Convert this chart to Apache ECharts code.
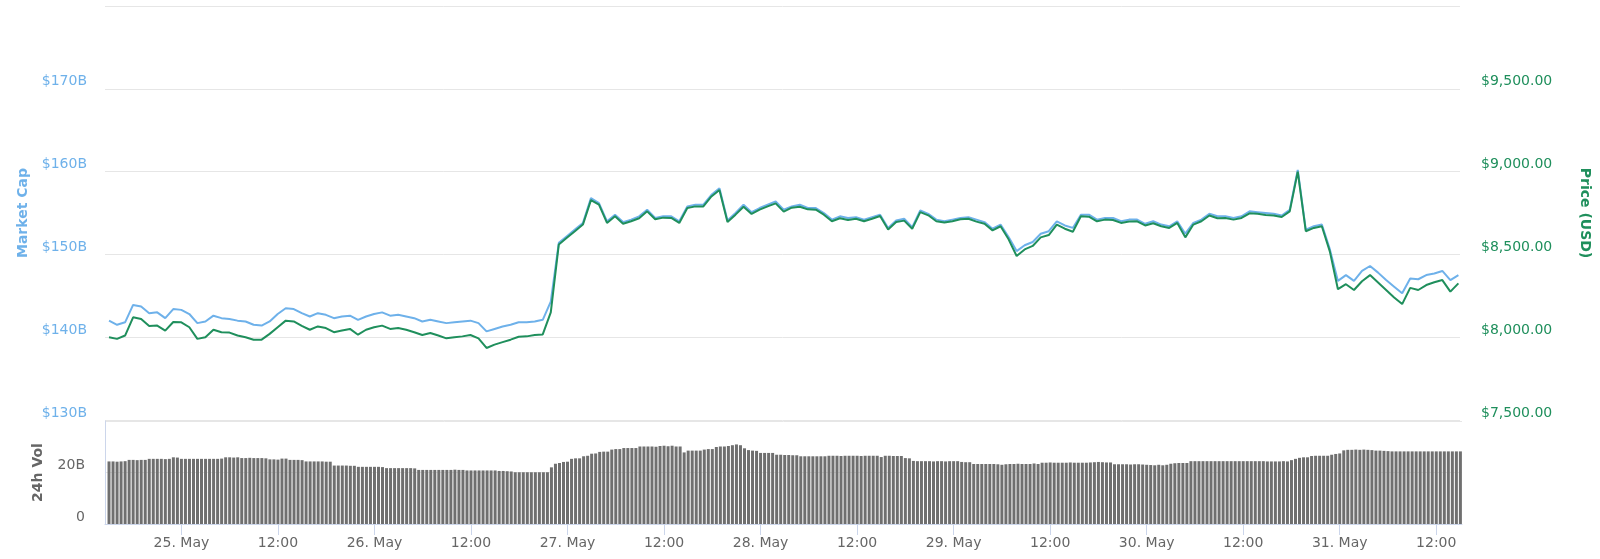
<!DOCTYPE html>
<html><head><meta charset="utf-8">
<script src="https://cdn.jsdelivr.net/npm/echarts@6/dist/echarts.min.js"></script>
<style>html,body{margin:0;padding:0;background:#fff}#chart{width:1600px;height:559px}</style>
</head><body><div id="chart"></div>
<script>
// hourly samples from 24 May 15:00 to 31 May 15:00
const firstSample = [2019, 4, 24, 15, 0];
const axisStart = [2019, 4, 24, 14, 30];
const axisEnd = [2019, 4, 31, 15, 12];
const monthNames = ['Jan','Feb','Mar','Apr','May','Jun','Jul','Aug','Sep','Oct','Nov','Dec'];
// x tick positions: [day of May, hour]
const xTickDays = [25, 25, 26, 26, 27, 27, 28, 28, 29, 29, 30, 30, 31, 31];
const xTickHours = [0, 12, 0, 12, 0, 12, 0, 12, 0, 12, 0, 12, 0, 12];

const priceUSD = [
 8000, 7990, 8010, 8120, 8110, 8068, 8070, 8040, 8092, 8090, 8060, 7990,
 8000, 8045, 8030, 8028, 8010, 8000, 7985, 7985, 8020, 8060, 8100, 8095,
 8068, 8045, 8065, 8055, 8030, 8040, 8050, 8015, 8045, 8060, 8070, 8050,
 8055, 8045, 8030, 8013, 8025, 8010, 7993, 8000, 8005, 8013, 7993, 7935,
 7955, 7970, 7985, 8003, 8005, 8013, 8017, 8150, 8560, 8600, 8640, 8680,
 8828, 8800, 8690, 8730, 8685, 8700, 8718, 8760, 8712, 8722, 8720, 8690,
 8780, 8790, 8790, 8850, 8889, 8695, 8740, 8788, 8744, 8770, 8790, 8808,
 8758, 8782, 8788, 8772, 8770, 8740, 8700, 8718, 8708, 8715, 8700, 8715,
 8732, 8650, 8695, 8704, 8655, 8755, 8736, 8700, 8692, 8700, 8712, 8715,
 8698, 8685, 8645, 8670, 8591, 8490, 8530, 8551, 8603, 8617, 8680, 8655,
 8637, 8730, 8728, 8700, 8710, 8708, 8690, 8698, 8700, 8675, 8688, 8670,
 8660, 8690, 8603, 8680, 8700, 8735, 8718, 8720, 8710, 8720, 8748, 8745,
 8738, 8735, 8726, 8760, 9000, 8640, 8660, 8670, 8517, 8290, 8320, 8285,
 8338, 8375, 8330, 8285, 8240, 8200, 8298, 8285, 8315, 8332, 8345, 8275, 8325
];

const marketCapB = [
 142.0, 141.5, 141.8, 143.9, 143.7, 142.9, 143.0, 142.3, 143.4, 143.3, 142.8, 141.7,
 141.9, 142.6, 142.3, 142.2, 142.0, 141.9, 141.5, 141.4, 141.9, 142.8, 143.5, 143.4,
 142.9, 142.5, 142.9, 142.7, 142.3, 142.5, 142.6, 142.1, 142.5, 142.8, 143.0, 142.6,
 142.7, 142.5, 142.3, 141.9, 142.1, 141.9, 141.7, 141.8, 141.9, 142.0, 141.7, 140.7,
 141.0, 141.3, 141.5, 141.8, 141.8, 141.9, 142.1, 144.3, 151.4, 152.2, 153.0, 153.8,
 156.8, 156.2, 154.0, 154.8, 153.9, 154.2, 154.6, 155.4, 154.4, 154.6, 154.6, 154.0,
 155.8, 156.0, 156.0, 157.2, 158.0, 154.1, 155.0, 156.0, 155.1, 155.6, 156.0, 156.4,
 155.4, 155.8, 156.0, 155.6, 155.6, 155.0, 154.2, 154.6, 154.4, 154.5, 154.2, 154.5,
 154.8, 153.2, 154.1, 154.3, 153.3, 155.3, 154.9, 154.2, 154.0, 154.2, 154.4, 154.5,
 154.2, 153.9, 153.1, 153.6, 152.1, 150.4, 151.1, 151.5, 152.5, 152.8, 154.0, 153.5,
 153.2, 154.8, 154.8, 154.2, 154.4, 154.4, 154.0, 154.2, 154.2, 153.7, 154.0, 153.6,
 153.4, 154.0, 152.5, 153.8, 154.2, 154.9, 154.6, 154.6, 154.4, 154.6, 155.2, 155.1,
 155.0, 154.9, 154.7, 155.4, 160.2, 153.0, 153.4, 153.6, 150.6, 146.8, 147.5, 146.8,
 148.0, 148.6, 147.8, 146.9, 146.1, 145.3, 147.1, 147.0, 147.5, 147.7, 148.0, 146.9, 147.5
];

// half-hourly 24h volume (billions USD)
const volume24hB = [
 24.3,24.3,24.2,24.3,24.4, 24.9,24.9,24.8,24.9,24.9, 25.3,25.3,25.3,25.3,25.2,25.3, 25.9,25.8,
 25.3,25.3,25.3,25.3,25.3,25.3,25.3,25.3,25.3,25.3,25.4, 25.9,25.9,25.8,25.9,
 25.6,25.6,25.7,25.6,25.6,25.6,25.5, 25.1,25.1,25.0, 25.4,25.4, 24.9,24.9,24.9,24.8,
 24.3,24.3,24.3,24.3,24.3,24.2,24.2, 22.7,22.7,22.7,22.7,22.6,22.6,
 22.2,22.2,22.2,22.2,22.2,22.2,22.1, 21.7,21.7,21.7,21.7,21.7,21.7,21.7,21.6,
 21.0,21.0,21.0,21.0,21.0,21.0,21.0,21.0,21.0,21.1,21.0,21.0,
 20.8,20.8,20.8,20.8,20.8,20.8,20.8,20.8, 20.6,20.6,20.5,20.4,
 20.1,20.1,20.1,20.1,20.1,20.1,20.1,20.1,20.1, 22.0, 23.4,23.7, 24.1,24.2, 25.3,25.5,25.5,
 26.3,26.5, 27.3,27.4, 28.0,28.1,28.1, 28.9,29.1,29.1, 29.5,29.5,29.5,29.5,
 30.1,30.1,30.1,30.1,30.0,30.3, 30.4,30.2,30.4,30.1,30.1, 27.8, 28.5,28.5,28.5,28.5,
 28.9,29.1,29.1, 29.9,30.1,30.1,30.3, 30.6,30.9,30.6, 29.4, 28.7,28.5,28.4,
 27.6,27.6,27.6,27.6, 26.9,26.9,26.8,26.8,26.7,26.7, 26.3,26.3,26.3,26.3,26.3,26.3,26.3,
 26.5,26.5,26.5,26.4,26.5,26.5,26.5,26.5,26.4,26.5,26.5,26.5,26.5, 26.0, 26.5,26.5,26.4,26.4,26.4,
 25.6,25.5, 24.5,24.4,24.4,24.4,24.4,24.3,24.4,24.4,24.3,24.4,24.4,24.4, 24.1,24.0,24.0,
 23.3,23.3,23.3,23.3,23.3,23.3,23.2,23.0,23.2,23.3,23.3,23.4,23.3,23.3,23.3,23.5,23.3,
 23.8,23.8,23.9,23.8,23.8,23.8,23.8,23.9,23.8,23.8,23.8,23.8,23.9, 24.0,24.1,24.0,23.9,23.9,
 23.2,23.2,23.2,23.2,23.1,23.2,23.2,23.1, 23.0,22.9,22.8,23.0,22.8,23.0, 23.4,23.6,23.7,23.7,23.7,
 24.4,24.4,24.4,24.4,24.4,24.4,24.4,24.4,24.4,24.4,24.4,24.4,24.4,24.4,24.4,24.4,24.4,24.4,24.4,
 24.3,24.3,24.3,24.3,24.4,24.3, 24.8,25.3, 25.7,25.9,25.9, 26.4,26.5,26.5,26.5,26.5, 26.9,27.2,27.4,
 28.6,28.8,28.8,28.9,28.8,28.9,28.8,28.7, 28.5,28.5,28.4,28.3,
 28.2,28.2,28.2,28.2,28.2,28.2,28.2,28.2,28.2,28.2,28.2,28.2,28.2,28.2,28.2,28.2,28.2,28.2
];

const HOUR = 3600000;
const t0 = new Date(...firstSample).getTime();
const priceData = priceUSD.map((v, i) => [t0 + i * HOUR, v]);
const mcapData = marketCapB.map((v, i) => [t0 + i * HOUR, v]);
const volData = volume24hB.map((v, i) => [t0 + i * HOUR / 2, v]);
const xTicks = xTickDays.map((d, i) => new Date(2019, 4, d, xTickHours[i], 0).getTime());

const BLUE = '#6eb1ea';
const GREEN = '#1f8f5c';
const GREY = '#666666';
const FONT = 'DejaVu Sans';
const xMin = new Date(...axisStart).getTime();
const xMax = new Date(...axisEnd).getTime();

function fmtPrice(v) {
  return '$' + v.toLocaleString('en-US', {minimumFractionDigits: 2, maximumFractionDigits: 2});
}

const chart = echarts.init(document.getElementById('chart'), null, {renderer: 'canvas'});
chart.setOption({
  animation: false,
  backgroundColor: '#ffffff',
  textStyle: {fontFamily: FONT},
  grid: [
    {left: 105, right: 138, top: 6, height: 414},
    {left: 105, right: 138, top: 421, height: 103}
  ],
  xAxis: [
    {type: 'value', gridIndex: 0, min: xMin, max: xMax, show: true,
     axisLine: {show: false}, axisTick: {show: false}, axisLabel: {show: false}, splitLine: {show: false}},
    {type: 'value', gridIndex: 1, min: xMin, max: xMax,
     axisLine: {show: true, onZero: false, lineStyle: {color: '#ccd6eb', width: 1}},
     axisTick: {show: true, length: 11, lineStyle: {color: '#ccd6eb'}, customValues: xTicks},
     splitLine: {show: false},
     axisLabel: {
       color: GREY, fontSize: 14, fontFamily: FONT, margin: 12,
       customValues: xTicks,
       formatter: function (val) {
         const d = new Date(val);
         if (d.getHours() === 0) return d.getDate() + '. ' + monthNames[d.getMonth()];
         return '12:00';
       }
     }}
  ],
  yAxis: [
    {type: 'value', gridIndex: 0, position: 'left', min: 130, max: 180, interval: 10,
     name: 'Market Cap', nameLocation: 'middle', nameGap: 75,
     nameTextStyle: {color: BLUE, fontWeight: 'bold', fontSize: 14, fontFamily: FONT},
     axisLine: {show: false}, axisTick: {show: false},
     splitLine: {show: true, lineStyle: {color: '#e6e6e6', width: 1}},
     axisLabel: {color: BLUE, fontSize: 14, fontFamily: FONT, margin: 18, verticalAlign: 'bottom',
       formatter: v => v === 180 ? '' : '$' + v + 'B'}},
    {type: 'value', gridIndex: 0, position: 'right', min: 7500, max: 10000, interval: 500,
     name: 'Price (USD)', nameLocation: 'middle', nameGap: 118, nameRotate: -90,
     nameTextStyle: {color: GREEN, fontWeight: 'bold', fontSize: 14, fontFamily: FONT},
     axisLine: {show: false}, axisTick: {show: false}, splitLine: {show: false},
     axisLabel: {color: GREEN, fontSize: 14, fontFamily: FONT, margin: 21, verticalAlign: 'bottom',
       formatter: v => v === 10000 ? '' : fmtPrice(v)}},
    {type: 'value', gridIndex: 1, position: 'left', min: 0, max: 40, interval: 20,
     name: '24h Vol', nameLocation: 'middle', nameGap: 60,
     nameTextStyle: {color: GREY, fontWeight: 'bold', fontSize: 14, fontFamily: FONT},
     axisLine: {show: true, onZero: false, lineStyle: {color: '#ccd6eb'}}, axisTick: {show: false},
     splitLine: {show: true, lineStyle: {color: '#e6e6e6', width: 1}},
     axisLabel: {color: GREY, fontSize: 14, fontFamily: FONT, margin: 20, verticalAlign: 'bottom',
       formatter: v => v === 40 ? '' : (v === 0 ? '0' : v + 'B')}}
  ],
  series: [
    {name: 'Market Cap', type: 'line', xAxisIndex: 0, yAxisIndex: 0, data: mcapData,
     showSymbol: false, symbol: 'none', lineStyle: {color: BLUE, width: 2}, itemStyle: {color: BLUE}, z: 2},
    {name: 'Price (USD)', type: 'line', xAxisIndex: 0, yAxisIndex: 1, data: priceData,
     showSymbol: false, symbol: 'none', lineStyle: {color: GREEN, width: 2}, itemStyle: {color: GREEN}, z: 3},
    {name: '24h Vol', type: 'bar', xAxisIndex: 1, yAxisIndex: 2, data: volData,
     barWidth: 3, itemStyle: {color: '#6f6f6f'}, z: 2}
  ]
});
</script>
</body></html>
